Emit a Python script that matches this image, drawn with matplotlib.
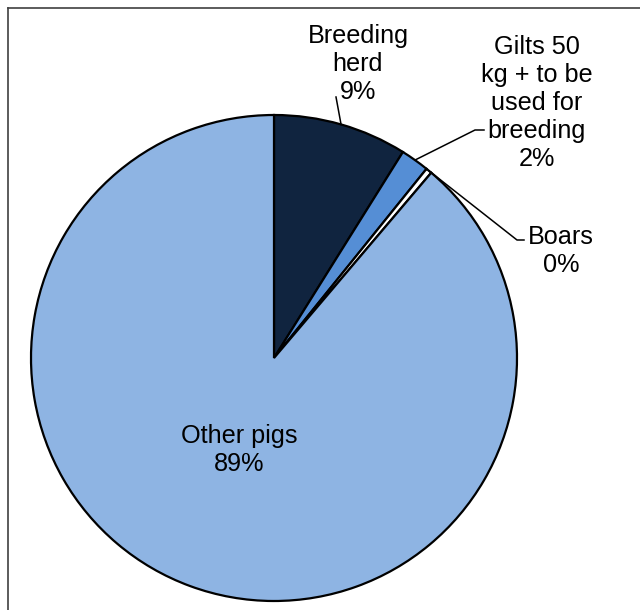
import numpy as np
import matplotlib
matplotlib.use("Agg")
import matplotlib.pyplot as plt
from matplotlib.lines import Line2D

plt.rcParams['font.family'] = ['Liberation Sans', 'DejaVu Sans']

categories = ["Breeding\nherd", "Gilts 50\nkg + to be\nused for\nbreeding", "Boars", "Other pigs"]
shares = [8.9, 1.9, 0.4, 88.8]
colors = ["#10243F", "#558ED5", "#FFFFFF", "#8EB4E3"]

W, H = 640, 610
fig = plt.figure(figsize=(W / 100, H / 100), dpi=100)

cx, cy, r = 274, 358, 243
ax = fig.add_axes([(cx - r) / W, (H - cy - r) / H, 2 * r / W, 2 * r / H])
wedges, _ = ax.pie(shares, colors=colors, startangle=90, counterclock=False,
                   radius=1.0, wedgeprops=dict(edgecolor="black", linewidth=1.6))
ax.set_xlim(-1, 1)
ax.set_ylim(-1, 1)
ax.set_aspect("equal")
ax.axis("off")


def px(x, y):
    return (x - cx) / r, (cy - y) / r


def edge_point(w, rad=1.0):
    a = np.deg2rad((w.theta1 + w.theta2) / 2)
    return rad * np.cos(a), rad * np.sin(a)


labels = [f"{c}\n{round(v):.0f}%" for c, v in zip(categories, shares)]
fs = 18.2
kw = dict(fontsize=fs, ha="center", va="center", linespacing=1.22, color="black")

# Breeding herd
ax.text(*px(358, 64), labels[0], **kw)
x0, y0 = edge_point(wedges[0], 1.0)
ax.plot([x0, px(336, 97)[0]], [y0, px(336, 97)[1]], color="black", lw=1.1, clip_on=False)

# Gilts
ax.text(*px(537, 103), labels[1], **kw)
x0, y0 = edge_point(wedges[1], 1.0)
p1, p2 = px(475, 130), px(484, 130)
ax.plot([x0, p1[0], p2[0]], [y0, p1[1], p2[1]], color="black", lw=1.1, clip_on=False)

# Boars
ax.text(*px(561, 251), labels[2], **kw)
x0, y0 = edge_point(wedges[2], 1.0)
p1, p2 = px(517, 240), px(524, 240)
ax.plot([x0, p1[0], p2[0]], [y0, p1[1], p2[1]], color="black", lw=1.1, clip_on=False)

# Other pigs
ax.text(*px(239, 450), labels[3], **kw)

# chart area border (runs off the right and bottom edges)
fx = 7.5 / W
fy = 1 - 7.5 / H
fig.add_artist(Line2D([fx, 1.01], [fy, fy], transform=fig.transFigure, color="#404040", lw=1.2))
fig.add_artist(Line2D([fx, fx], [fy, -0.01], transform=fig.transFigure, color="#404040", lw=1.2))

fig.savefig("out.png", dpi=100, facecolor="white")
